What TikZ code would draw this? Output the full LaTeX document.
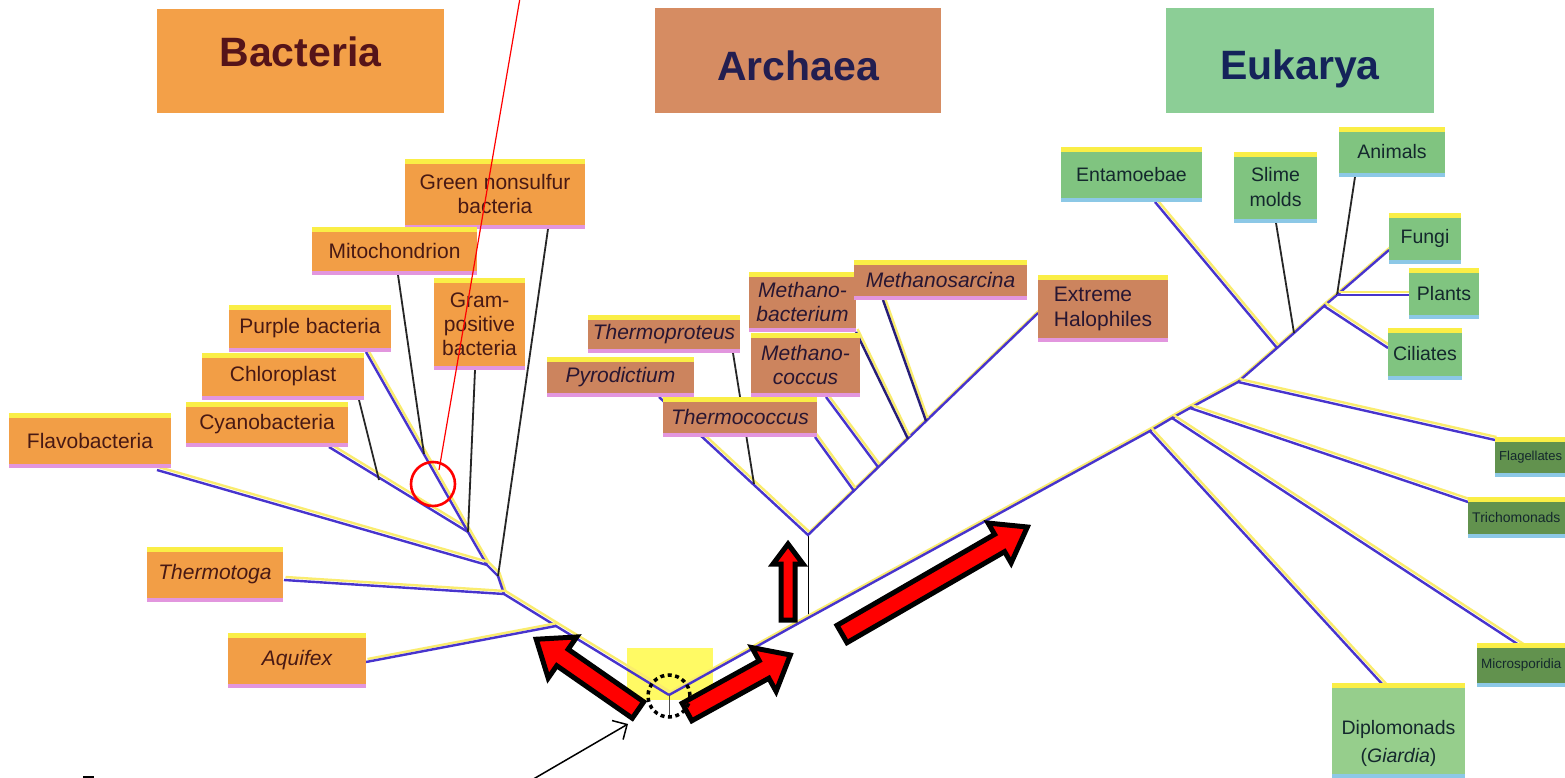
\documentclass[tikz,border=0pt]{standalone}
\usepackage{fontspec}
\setmainfont{Liberation Sans}
\usetikzlibrary{arrows.meta}

\definecolor{bacthead}{RGB}{243,160,72}
\definecolor{archhead}{RGB}{214,140,98}
\definecolor{eukhead}{RGB}{140,206,150}
\definecolor{bactheadtext}{RGB}{85,20,25}
\definecolor{archheadtext}{RGB}{35,30,80}
\definecolor{eukheadtext}{RGB}{20,35,90}
\definecolor{bactorange}{RGB}{242,158,70}
\definecolor{archbrown}{RGB}{204,132,94}
\definecolor{eukgreen}{RGB}{128,196,128}
\definecolor{euklight}{RGB}{150,206,140}
\definecolor{eukdark}{RGB}{98,146,78}
\definecolor{edgeyellow}{RGB}{250,238,70}
\definecolor{edgepink}{RGB}{226,150,222}
\definecolor{edgeblue}{RGB}{140,200,230}
\definecolor{treeblue}{RGB}{72,52,205}
\definecolor{treenavy}{RGB}{40,30,120}
\definecolor{shadowyellow}{RGB}{250,236,110}
\definecolor{bacttext}{RGB}{72,25,20}
\definecolor{archtext}{RGB}{40,22,50}
\definecolor{euktext}{RGB}{20,40,45}
\definecolor{rootmark}{RGB}{255,250,100}

\tikzset{
  taxon/.style n args={2}{rectangle, fill=#1, inner sep=0pt, align=center,
    path picture={
      \fill[edgeyellow] (path picture bounding box.north west) rectangle ([yshift=-5pt]path picture bounding box.north east);
      \fill[#2] (path picture bounding box.south west) rectangle ([yshift=4pt]path picture bounding box.south east);
    }},
  bact/.style={taxon={bactorange}{edgepink}, text=bacttext, font=\fontsize{21}{24}\selectfont},
  arch/.style={taxon={archbrown}{edgepink}, text=archtext, font=\fontsize{21}{24}\selectfont\itshape},
  euk/.style={taxon={eukgreen}{edgeblue}, text=euktext, font=\fontsize{19.5}{25}\selectfont},
  eukcut/.style={taxon={eukdark}{edgeblue}, text=euktext, font=\fontsize{13}{15}\selectfont,
    anchor=west, text width=100pt, align=left, inner xsep=4pt},
  domainbox/.style={rectangle, inner sep=0pt, font=\fontsize{41}{45}\selectfont\bfseries},
  branch/.style={draw=treeblue, line width=2.4pt,
    preaction={draw=shadowyellow, line width=2.4pt, transform canvas={xshift=1.5pt, yshift=3pt}}},
  darkbranch/.style={branch, draw=treenavy},
  twig/.style={draw=black!85, line width=1.8pt},
  pics/fatarrow/.style n args={4}{code={
    \draw[line width=5pt, fill=red, line join=miter] (0,-#2) -- ({#1-#4},-#2) -- ({#1-#4},-#3)
      -- (#1,0) -- ({#1-#4},#3) -- ({#1-#4},#2) -- (0,#2) -- cycle;}},
}

\begin{document}
\begin{tikzpicture}[x=1pt, y=-1pt]
	\useasboundingbox (0,0) rectangle (1565,778);
	\clip (0,0) rectangle (1565,778);
	\fill[white] (0,0) rectangle (1565,778);
	% define coordinates
	\coordinate (root) at (669,695);
	\coordinate (rootstem) at (669,717);
	\coordinate (bAq) at (556,626);
	\coordinate (bTh) at (504,594);
	\coordinate (bGn) at (498,576);
	\coordinate (bFl) at (487,565);
	\coordinate (bCy) at (468,532);
	\coordinate (bMi) at (424,454);
	\coordinate (bCh) at (379,480);
	\coordinate (aBase) at (808,618);
	\coordinate (aRoot) at (808,535);
	\coordinate (aTp) at (754,484);
	\coordinate (aTc) at (854,491);
	\coordinate (aMc) at (878,467);
	\coordinate (aMb) at (908,439);
	\coordinate (aMs) at (926,421);
	\coordinate (eDi) at (1150,431);
	\coordinate (eMi) at (1172,418);
	\coordinate (eTr) at (1190,408);
	\coordinate (eHub) at (1238,382);
	\coordinate (eEn) at (1277,348);
	\coordinate (eSl) at (1294,333);
	\coordinate (eCi) at (1324,306);
	\coordinate (ePl) at (1337,295);
	% leaf ends
	\coordinate (aquifexEnd) at (366,662);
	\coordinate (thermotogaEnd) at (284,580);
	\coordinate (flavoEnd) at (157,470);
	\coordinate (cyanoEnd) at (329,447);
	\coordinate (chloroEnd) at (359,400);
	\coordinate (purpleEnd) at (366,352);
	\coordinate (mitoEnd) at (398,275);
	\coordinate (gramEnd) at (475,370);
	\coordinate (greenEnd) at (548,229);
	\coordinate (pyroEnd) at (659,397);
	\coordinate (haloEnd) at (1038,313);
	\coordinate (proteusEnd) at (733,353);
	\coordinate (coccusEnd) at (815,437);
	\coordinate (mcoccusEnd) at (826,397);
	\coordinate (mbactEnd) at (856,332);
	\coordinate (msarcEnd) at (883,300);
	\coordinate (fungiEnd) at (1389,250);
	\coordinate (entEnd) at (1155,202);
	\coordinate (slimeEnd) at (1276,223);
	\coordinate (animalEnd) at (1355,177);
	\coordinate (plantEnd) at (1409,295);
	\coordinate (ciliEnd) at (1388,348);
	\coordinate (flagEnd) at (1495,440);
	\coordinate (trichEnd) at (1468,502);
	\coordinate (microEnd) at (1522,647);
	\coordinate (diploEnd) at (1395,698);
	% root mark
	\fill[rootmark] (627,648) rectangle (713,700);
	% bacteria branches
	\draw[branch] (root) -- (bAq) -- (bTh) -- (bGn) -- (bFl) -- (bCy);
	\draw[branch] (aquifexEnd) -- (bAq);
	\draw[branch] (thermotogaEnd) -- (bTh);
	\draw[branch] (flavoEnd) -- (bFl);
	\draw[branch] (cyanoEnd) -- (bCy);
	\draw[branch] (purpleEnd) -- (bCy);
	\draw[twig] (chloroEnd) -- (bCh);
	\draw[twig] (mitoEnd) -- (bMi);
	\draw[twig] (gramEnd) -- (bCy);
	\draw[twig] (greenEnd) -- (bGn);
	% archaea branches
	\draw[black, line width=1pt] (aBase) -- (aRoot);
	\draw[branch] (pyroEnd) -- (aRoot) -- (haloEnd);
	\draw[twig] (proteusEnd) -- (aTp);
	\draw[branch] (coccusEnd) -- (aTc);
	\draw[branch] (mcoccusEnd) -- (aMc);
	\draw[darkbranch] (mbactEnd) -- (aMb);
	\draw[darkbranch] (msarcEnd) -- (aMs);
	% eukarya branches
	\draw[branch] (root) -- (aBase) -- (eDi) -- (eMi) -- (eTr) -- (eHub) -- (eEn) -- (eSl) -- (eCi) -- (ePl) -- (fungiEnd);
	\draw[branch] (entEnd) -- (eEn);
	\draw[twig] (slimeEnd) -- (eSl);
	\draw[twig] (animalEnd) -- (ePl);
	\draw[branch] (ePl) -- (plantEnd);
	\draw[branch] (eCi) -- (ciliEnd);
	\draw[branch] (eHub) -- (flagEnd);
	\draw[branch] (eTr) -- (trichEnd);
	\draw[branch] (eMi) -- (microEnd);
	\draw[branch] (eDi) -- (diploEnd);
	\draw[black!70, line width=1pt] (root) -- (rootstem);
	% domains
	\node[domainbox, fill=bacthead, text=bactheadtext, minimum width=287pt, minimum height=104pt, text depth=18pt] (bacteria) at (300.5,61) {Bacteria};
	\node[domainbox, fill=archhead, text=archheadtext, minimum width=286pt, minimum height=105pt, text height=40pt] (archaea) at (798,60.5) {Archaea};
	\node[domainbox, fill=eukhead, text=eukheadtext, minimum width=268pt, minimum height=105pt, text height=47pt] (eukarya) at (1300,60.5) {Eukarya};
	% bacteria
	\node[bact, minimum width=180pt, minimum height=70pt] (green) at (495,194) {Green nonsulfur\\bacteria};
	\node[bact, minimum width=165pt, minimum height=48pt] (mito) at (394.5,251) {Mitochondrion};
	\node[bact, minimum width=91pt, minimum height=92pt] (gram) at (479.5,324) {Gram-\\positive\\bacteria};
	\node[bact, minimum width=162pt, minimum height=47pt] (purple) at (310,328.5) {Purple bacteria};
	\node[bact, minimum width=162pt, minimum height=47pt] (chloro) at (283,376.5) {Chloroplast};
	\node[bact, minimum width=162pt, minimum height=45pt] (cyano) at (267,424.5) {Cyanobacteria};
	\node[bact, minimum width=162pt, minimum height=55pt] (flavo) at (90,440.5) {Flavobacteria};
	\node[bact, minimum width=136pt, minimum height=55pt, font=\fontsize{21}{24}\selectfont\itshape] (thermotoga) at (215,574.5) {Thermotoga};
	\node[bact, minimum width=138pt, minimum height=55pt, font=\fontsize{21}{24}\selectfont\itshape] (aquifex) at (297,660.5) {Aquifex};
	% archaea
	\node[arch, minimum width=152pt, minimum height=38pt] (proteus) at (664,334) {Thermoproteus};
	\node[arch, minimum width=147pt, minimum height=40pt] (pyro) at (620.5,377) {Pyrodictium};
	\node[arch, minimum width=107pt, minimum height=60pt] (mbact) at (802.5,302) {Methano-\\bacterium};
	\node[arch, minimum width=173pt, minimum height=40pt] (msarc) at (940.5,280) {Methanosarcina};
	\node[arch, minimum width=109pt, minimum height=64pt] (mcoccus) at (805.5,365) {Methano-\\coccus};
	\node[arch, minimum width=154pt, minimum height=40pt] (coccus) at (740,417) {Thermococcus};
	\node[arch, minimum width=130pt, minimum height=67pt, align=left, font=\fontsize{21}{25}\selectfont] (halo) at (1103,308.5) {Extreme\\Halophiles};
	% eukarya
	\node[euk, minimum width=141pt, minimum height=55pt] (ent) at (1131.5,174.5) {Entamoebae};
	\node[euk, minimum width=83pt, minimum height=71pt] (slime) at (1275.5,187.5) {Slime\\molds};
	\node[euk, minimum width=106pt, minimum height=50pt] (animals) at (1392,152) {Animals};
	\node[euk, minimum width=72pt, minimum height=51pt] (fungi) at (1425,238.5) {Fungi};
	\node[euk, minimum width=70pt, minimum height=51pt] (plants) at (1444,293.5) {Plants};
	\node[euk, minimum width=74pt, minimum height=52pt] (ciliates) at (1425,354) {Ciliates};
	\node[eukcut, minimum height=40pt] (flag) at (1495,457) {Flagellates};
	\node[eukcut, minimum height=41pt, font=\fontsize{14}{17}\selectfont] (trich) at (1468,517.5) {Trichomonads};
	\node[eukcut, minimum height=44pt, font=\fontsize{13.5}{16}\selectfont] (micro) at (1477,665) {Microsporidia};
	\node[euk, fill=euklight, minimum width=133pt, minimum height=95pt] (diplo) at (1398.5,730.5) {};
	\node[text=euktext, font=\fontsize{19.5}{28}\selectfont, align=center, inner sep=0pt] (diplotext) at (1398.5,743) {Diplomonads\\(\textit{Giardia})};
	% arrows
	\pic[rotate=145.2] at (638,710) {fatarrow={124}{10}{25}{32}};
	\pic[rotate=28.9] at (687,712) {fatarrow={118}{10}{25}{30}};
	\pic[rotate=90] at (788,620) {fatarrow={76}{7}{15}{20}};
	\pic[rotate=30] at (842,634) {fatarrow={214}{10}{23}{32}};
	% marks
	\coordinate (spot) at (433,484);
	\coordinate (spotlink) at (439,470);
	\coordinate (spottop) at (520,-2);
	\draw[red, line width=1.2pt] (spotlink) -- (spottop);
	\draw[red, line width=2.6pt] (spot) circle (22);
	\draw[line width=3.5pt, dash pattern=on 4pt off 3.5pt] ([yshift=-1pt]root) circle (21);
	\coordinate (ptrtail) at (530,781);
	\coordinate (ptrtip) at (628,724);
	\draw[line width=1.5pt, -{Straight Barb[length=11pt, width=22pt]}] (ptrtail) -- (ptrtip);
	\draw[line width=2pt] (83,777) -- (94,777);
\end{tikzpicture}
\end{document}
